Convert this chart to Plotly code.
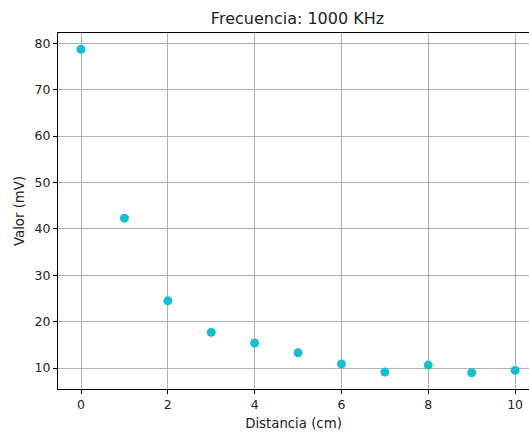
import plotly.graph_objects as go

distancia = [0, 1, 2, 3, 4, 5, 6, 7, 8, 9, 10]
valor = [78.7, 42.3, 24.5, 17.7, 15.4, 13.3, 10.9, 9.15, 10.65, 9.0, 9.5]
x_ticks = [0, 2, 4, 6, 8, 10]
y_ticks = [10, 20, 30, 40, 50, 60, 70, 80]

W, H = 529, 434
L, R, T, B = 58, 0, 33, 45

fig = go.Figure(go.Scatter(
    x=distancia, y=valor, mode="markers",
    marker=dict(color="#17becf", size=9, line=dict(width=0)),
))

tick_font = dict(family="DejaVu Sans", size=12.5, color="#222222")
label_font = dict(family="DejaVu Sans", size=13.3, color="#222222")
fig.update_layout(
    width=W, height=H,
    margin=dict(l=L, r=R, t=T, b=B),
    paper_bgcolor="white", plot_bgcolor="white",
    showlegend=False,
    font=tick_font,
    title=dict(text="Frecuencia: 1000 KHz", x=(297.5 - L) / (W - L - R), xref="paper",
               xanchor="center", y=1 - 18 / H, yref="container", yanchor="middle",
               font=dict(family="DejaVu Sans", size=16, color="#222222")),
)
fig.update_xaxes(
    range=[-0.53, 10.32], tickvals=x_ticks, ticks="outside", ticklen=4, tickcolor="black",
    showline=True, linecolor="black", linewidth=1, mirror=True,
    showgrid=True, gridcolor="#b0b0b0", gridwidth=1, zeroline=False,
    tickfont=tick_font,
    title=dict(text="Distancia (cm)", standoff=7, font=label_font),
)
fig.update_yaxes(
    range=[5.5, 82.2], tickvals=y_ticks, ticks="outside", ticklen=4, tickcolor="black",
    showline=True, linecolor="black", linewidth=1, mirror=False,
    showgrid=True, gridcolor="#b0b0b0", gridwidth=1, zeroline=False,
    tickfont=tick_font,
    title=dict(text="Valor (mV)", standoff=6, font=label_font),
)
fig.write_html("out.html")
